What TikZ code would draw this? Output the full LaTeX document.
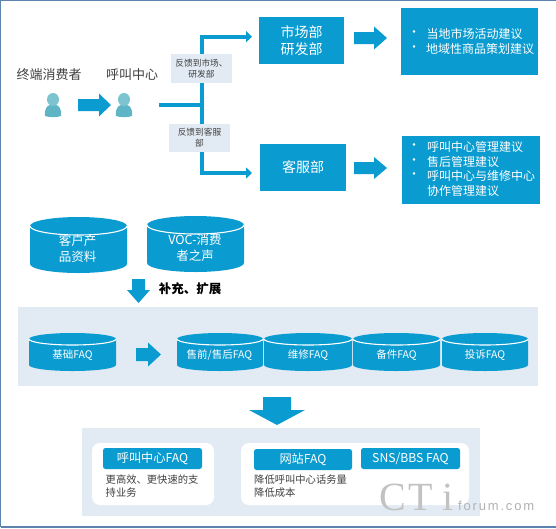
\documentclass[tikz,border=0pt]{standalone}
\usepackage{fontspec}
\setmainfont{Noto Sans CJK SC}
\usetikzlibrary{arrows.meta}
\definecolor{cblue}{HTML}{0A9BD0}
\definecolor{pale}{HTML}{E2EBF4}
\definecolor{frame}{HTML}{5B83AE}
\definecolor{tealhead}{HTML}{7CC4D0}
\definecolor{tealbody}{HTML}{5FB5C5}
\definecolor{ink}{HTML}{404040}
\tikzset{
 bluebox/.style={fill=cblue,text=white,inner sep=0pt,align=center},
 palebox/.style={fill=pale,inner sep=0pt,align=center,text=ink,font=\fontsize{8.7}{11}\selectfont},
 bluebar/.style={fill=cblue,text=white,rounded corners=2.5pt,inner sep=0pt,font=\fontsize{12.2}{14}\selectfont},
 wbox/.style={fill=white,rounded corners=8pt},
 caption/.style={text=ink,font=\fontsize{13}{15}\selectfont,inner sep=0pt},
 note/.style={text=ink,font=\fontsize{10.3}{13.4}\selectfont,inner sep=0pt,align=left,anchor=north west},
 conn/.style={draw=cblue,line width=4pt},
 connarrow/.style={draw=cblue,line width=4pt,-{Triangle[length=6pt,width=11pt]}},
 cyltext/.style={text=white,inner sep=0pt,align=center},
}
% #1 cx, #2 half width, #3 top y, #4 bottom y, #5 ry (the y axis points down)
\newcommand{\cylshape}[5]{%
 \fill[cblue] (#1-#2,#3+#5) arc[start angle=180,end angle=360,x radius=#2,y radius=#5]
   -- (#1+#2,#4-#5) arc[start angle=0,end angle=180,x radius=#2,y radius=#5] -- cycle;
 \draw[white,line width=1.1pt] (#1-#2,#3+#5) arc[start angle=180,end angle=0,x radius=#2,y radius=#5];
}
% right block arrow: x0,x1,xh,yc,sh,hh
\newcommand{\rarrow}[6]{\fill[cblue] (#1,#4-#5)--(#3,#4-#5)--(#3,#4-#6)--(#2,#4)--(#3,#4+#6)--(#3,#4+#5)--(#1,#4+#5)--cycle;}
% down block arrow: xc,y0,y1,yh,sh,hh
\newcommand{\darrow}[6]{\fill[cblue] (#1-#5,#2)--(#1+#5,#2)--(#1+#5,#4)--(#1+#6,#4)--(#1,#3)--(#1-#6,#4)--(#1-#5,#4)--cycle;}
\newcommand{\personshape}[2]{%
 \fill[tealbody] (#1-8,#2+23) .. controls (#1-8.5,#2+15) and (#1-6,#2+13) .. (#1-3,#2+12)
   -- (#1+3,#2+12) .. controls (#1+6,#2+13) and (#1+8.5,#2+15) .. (#1+8,#2+23)
   .. controls (#1+4,#2+24.5) and (#1-4,#2+24.5) .. (#1-8,#2+23) -- cycle;
 \fill[tealhead] (#1,#2+6.5) ellipse[x radius=6,y radius=6.5];
}
\begin{document}
\begin{tikzpicture}[x=1pt,y=-1pt]
\useasboundingbox (0,0) rectangle (556,528);
\fill[white] (0,0) rectangle (556,528);
\draw[frame,line width=1.3pt] (0.7,527) -- (0.7,0.7) -- (556,0.7);
\draw[frame,line width=1.3pt] (0.7,527) -- (556,527);

% top section
\node[caption] (consumer) at (49,75) {终端消费者};
\node[caption] (center) at (132,75) {呼叫中心};
\personshape{53}{93}
\personshape{124}{93}
\rarrow{78}{111}{99}{105}{6}{11.5}

\coordinate (trunkmid) at (201.5,105);
\coordinate (trunktop) at (201.5,36.7);
\coordinate (trunkbot) at (201.5,173);
\coordinate (callout) at (159,105);
\node[bluebox,minimum width=85pt,minimum height=47pt,font=\fontsize{14}{17}\selectfont] (mkt) at (301.5,40.5) {市场部\\研发部};
\node[bluebox,minimum width=85.5pt,minimum height=47pt,font=\fontsize{14}{17}\selectfont] (svc) at (303.2,167.5) {客服部};
\coordinate (mkttip) at (252,36.7);
\coordinate (svctip) at (252,173);
\draw[conn] (callout) -- (trunkmid);
\draw[connarrow] (trunkmid) -- (trunktop) -- (mkttip);
\draw[connarrow] (trunkmid) -- (trunkbot) -- (svctip);
\node[palebox,minimum width=61pt,minimum height=29pt] (fb1) at (201.5,68.5) {反馈到市场、\\研发部};
\node[palebox,minimum width=61pt,minimum height=28pt] (fb2) at (199.5,138) {反馈到客服\\部};

\rarrow{354}{387}{374}{38}{6}{11.5}
\rarrow{354}{387}{374}{168}{6}{11}

\node[bluebox,minimum width=137pt,minimum height=67pt] (adv1) at (469.5,41.5) {};
\node[bluebox,minimum width=138pt,minimum height=68pt] (adv2) at (471,169.5) {};
\begin{scope}[every node/.style={text=white,inner sep=0pt,font=\fontsize{12}{14}\selectfont,anchor=west}]
\node (b1) at (408,34) {•}; \node (t1) at (426.5,34) {当地市场活动建议};
\node (b2) at (408,48.5) {•}; \node (t2) at (426,48.5) {地域性商品策划建议};
\node (b3) at (408,147) {•}; \node (t3) at (427,147) {呼叫中心管理建议};
\node (b4) at (408,162) {•}; \node (t4) at (427,162) {售后管理建议};
\node (b5) at (408,176) {•}; \node (t5) at (427,176) {呼叫中心与维修中心};
\node (t6) at (427,190.5) {协作管理建议};
\end{scope}

% data sources
\cylshape{78.5}{48.5}{217}{273}{9}
\cylshape{195.5}{48.5}{216}{272}{9}
\node[cyltext,font=\fontsize{12.5}{15.5}\selectfont] (c1) at (77.5,248.5) {客户产\\品资料};
\node[cyltext,font=\fontsize{12.5}{15.5}\selectfont] (c2) at (195,248) {VOC-消费\\者之声};
\darrow{138.5}{279}{303}{290}{6.5}{11.5}
\node[inner sep=0pt,font=\fontsize{12.5}{15}\selectfont\bfseries,text=black] (ext) at (190,289) {补充、扩展};

% FAQ panel
\node[fill=pale,inner sep=0pt,minimum width=520pt,minimum height=79pt] (panel) at (278,346.5) {};
\cylshape{72.5}{43.5}{333}{371}{6}
\cylshape{220}{43}{333}{371}{6}
\cylshape{308}{44}{333}{371}{6}
\cylshape{396.5}{43.5}{333}{371}{6}
\cylshape{485}{43}{333}{371}{6}
\begin{scope}[every node/.style={cyltext,font=\fontsize{10.5}{12}\selectfont}]
\node (f1) at (72.5,355) {基础FAQ};
\node (f2) at (219.5,355) {售前/售后FAQ};
\node (f3) at (308,355) {维修FAQ};
\node (f4) at (396.5,355) {备件FAQ};
\node (f5) at (485,355) {投诉FAQ};
\end{scope}
\rarrow{136}{161}{148}{354.5}{6.5}{12}

\darrow{277}{397}{425}{410}{14}{28}

% bottom panel
\node[fill=pale,inner sep=0pt,minimum width=398pt,minimum height=88pt] (panel2) at (281,472) {};
\node[wbox,inner sep=0pt,minimum width=122pt,minimum height=62pt] (w1) at (153,474) {};
\node[wbox,inner sep=0pt,minimum width=228pt,minimum height=62pt] (w2) at (355,474) {};
\node[bluebar,minimum width=99pt,minimum height=21pt] (q1) at (152.5,458.5) {呼叫中心FAQ};
\node[bluebar,minimum width=98pt,minimum height=21pt] (q2) at (303,459.5) {网站FAQ};
\node[bluebar,minimum width=99pt,minimum height=21pt] (q3) at (410.5,458.5) {SNS/BBS FAQ};
\node[note] (n1) at (105.5,474.5) {更高效、更快速的支\\持业务};
\node[note] (n2) at (254,474.5) {降低呼叫中心话务量\\降低成本};

% watermark
\begin{scope}[every node/.style={inner sep=0pt,text=black!24,anchor=base west}]
\node[font=\fontspec{Liberation Serif}\fontsize{40}{40}\selectfont] (wm1) at (379,510) {C};
\node[font=\fontspec{Liberation Serif}\fontsize{40}{40}\selectfont] (wm2) at (408,510) {T};
\node[font=\fontspec{Liberation Serif}\fontsize{40}{40}\selectfont] (wm3) at (442,510) {i};
\node[font=\fontspec{Liberation Sans}\fontsize{13}{13}\selectfont,text=black!30] (wm4) at (458,510) {\addfontfeature{LetterSpace=14}forum.com};
\end{scope}
\end{tikzpicture}
\end{document}
